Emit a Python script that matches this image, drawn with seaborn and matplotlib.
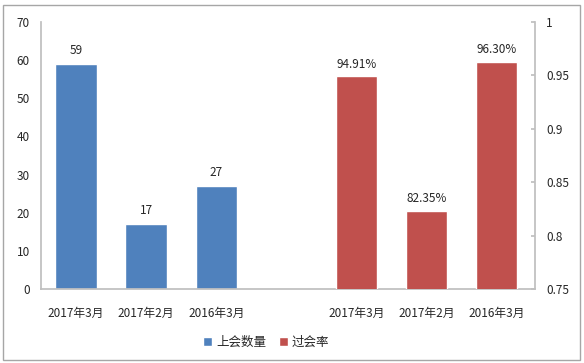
import matplotlib
matplotlib.use("Agg")
import matplotlib.pyplot as plt
import seaborn as sns
import pandas as pd
from matplotlib.patches import Rectangle, Patch

sns.set_theme(style="white")
plt.rcParams['font.family'] = ['Noto Sans CJK SC', 'DejaVu Sans']

months = ["2017年3月", "2017年2月", "2016年3月"]
counts = [59, 17, 27]
rates = [0.9491, 0.8235, 0.9630]
rate_labels = ["94.91%", "82.35%", "96.30%"]
series_names = ["上会数量", "过会率"]

blue = "#4F81BD"
red = "#C0504D"
gray = "#BFBFBF"
txt = "#262626"

slots = ["c0", "c1", "c2", "gap", "r0", "r1", "r2"]
df_count = pd.DataFrame({"slot": slots[:3], "value": counts})
df_rate = pd.DataFrame({"slot": slots[4:], "value": rates})

fig = plt.figure(figsize=(5.84, 3.63), dpi=100)
ax = fig.add_axes([41/584, 1 - 289/363, (535-41)/584, (289-22)/363])

sns.barplot(data=df_count, x="slot", y="value", order=slots, color=blue,
            width=0.59, ax=ax, saturation=1)
ax2 = ax.twinx()
sns.barplot(data=df_rate, x="slot", y="value", order=slots, color=red,
            width=0.59, ax=ax2, saturation=1)

ax.set_xlim(-0.5, 6.55)
ax.set_ylim(0, 70)
ax.set_yticks(range(0, 71, 10))
ax2.set_ylim(0.75, 1.0)
ax2.set_yticks([0.75, 0.8, 0.85, 0.9, 0.95, 1])
ax2.set_yticklabels(["0.75", "0.8", "0.85", "0.9", "0.95", "1"])

ax.set_xticks(range(7))
ax.set_xticklabels(months + [""] + months)
ax.set_xlabel("")
ax.set_ylabel("")
ax2.set_xlabel("")
ax2.set_ylabel("")

for a in (ax, ax2):
    for s in a.spines.values():
        s.set_visible(False)
    a.grid(False)
ax.spines['left'].set_visible(True)
ax.spines['left'].set_color(gray)
ax.spines['bottom'].set_visible(True)
ax.spines['bottom'].set_color(gray)
ax2.spines['right'].set_visible(True)
ax2.spines['right'].set_color(gray)

ax.tick_params(axis='y', length=0, pad=8, labelsize=8.5, labelcolor=txt)
ax.tick_params(axis='x', length=0, pad=13, labelsize=8.5, labelcolor=txt)
ax2.tick_params(axis='y', direction='in', length=3, color=gray, pad=8,
                labelsize=8.5, labelcolor=txt)

for i, v in enumerate(counts):
    ax.annotate(str(v), (i, v), xytext=(0, 10), textcoords="offset points",
                ha="center", va="center", fontsize=8.5, color=txt)
for i, (v, lab) in enumerate(zip(rates, rate_labels)):
    ax2.annotate(lab, (i + 4, v), xytext=(0, 8.5), textcoords="offset points",
                 ha="center", va="center", fontsize=8.5, color=txt)

handles = [Patch(facecolor=blue), Patch(facecolor=red)]
fig.legend(handles, series_names, loc="center", bbox_to_anchor=(266/584, 1 - 342/363),
           ncol=2, frameon=False, fontsize=9, handlelength=0.75, handleheight=0.75,
           handletextpad=0.3, columnspacing=1.0, labelcolor=txt)

fig.patches.append(Rectangle((3/584, 3/363), 577/584, 355/363, transform=fig.transFigure,
                             fill=False, edgecolor="#A6A6A6", linewidth=1))

fig.savefig("out.png", dpi=100)
